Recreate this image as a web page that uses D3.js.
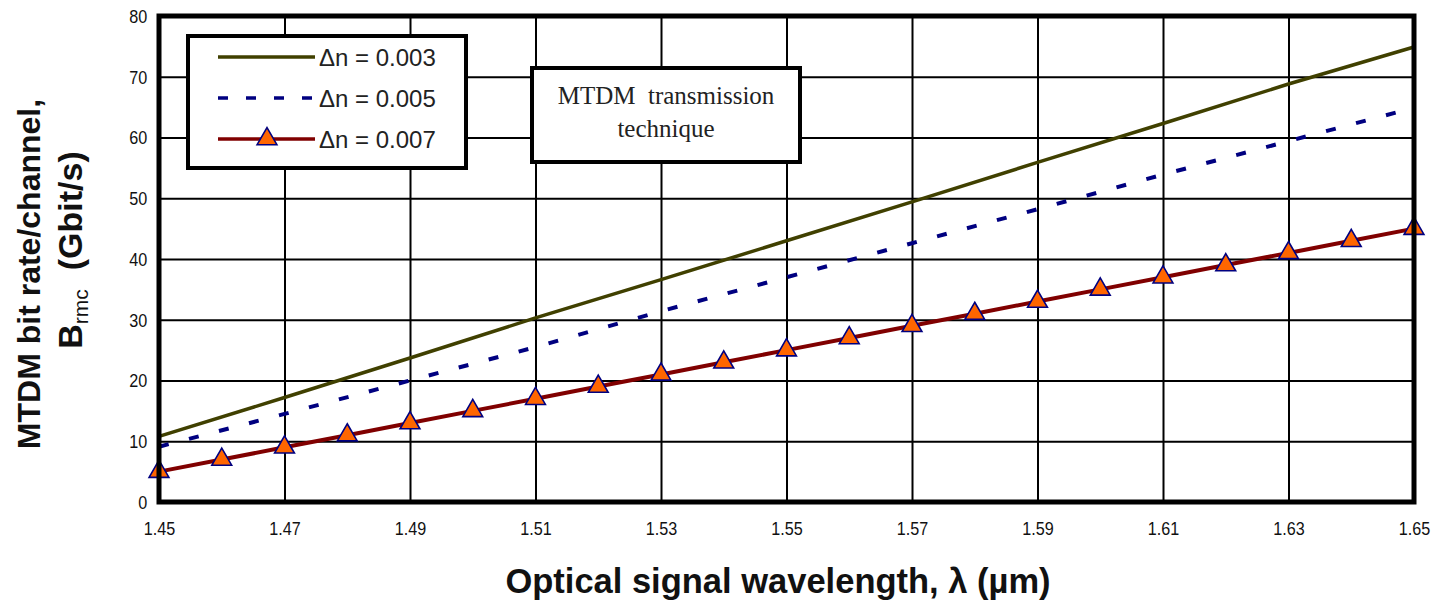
<!DOCTYPE html>
<html>
<head>
<meta charset="utf-8">
<script src="https://cdn.jsdelivr.net/npm/d3@7"></script>
<style>
    body { margin: 0; background: #fff; }
    #chartArea svg { display: block; }
</style>
</head>
<body>
<div id="chartArea"></div>
<script>
// wavelength grid (um) and read-off values (Gbit/s)
const lambdaMajor = [1.45, 1.47, 1.49, 1.51, 1.53, 1.55, 1.57, 1.59, 1.61, 1.63, 1.65];
const lambdaMinor = [1.45, 1.46, 1.47, 1.48, 1.49, 1.50, 1.51, 1.52, 1.53, 1.54, 1.55,
    1.56, 1.57, 1.58, 1.59, 1.60, 1.61, 1.62, 1.63, 1.64, 1.65];
const rateDn003 = [10.8, 17.2, 23.7, 30.3, 36.6, 43.0, 49.4, 55.9, 62.3, 68.8, 74.9];
const rateDn005 = [9.1, 14.5, 20.0, 25.5, 31.4, 37.0, 42.6, 48.2, 53.9, 59.4, 64.9];
const rateDn007 = [5, 7, 9, 11, 13, 15, 17, 19, 21, 23, 25, 27, 29, 31, 33, 35, 37, 39, 41, 43, 45];
const yTicks = [0, 10, 20, 30, 40, 50, 60, 70, 80];
const legendLabels = ["\u0394n = 0.003", "\u0394n = 0.005", "\u0394n = 0.007"];

const W = 1447, H = 607;
const margin = { top: 16, right: 33, bottom: 105, left: 159 },
    width = W - margin.left - margin.right,
    height = H - margin.top - margin.bottom;

const root = d3.select("#chartArea").append("svg")
    .attr("width", W)
    .attr("height", H)
    .style("background", "#fff");

const svg = root.append("g")
    .attr("transform", `translate(${margin.left},${margin.top})`);

const x = d3.scaleLinear().domain([1.45, 1.65]).range([0, width]);
const y = d3.scaleLinear().domain([0, 80]).range([height, 0]);

// grid
svg.append("g")
    .attr("class", "grid")
    .attr("transform", `translate(0, ${height})`)
    .call(d3.axisBottom(x).tickValues(lambdaMajor).tickSize(-height).tickFormat(""))
    .call(g => g.select(".domain").remove())
    .selectAll("line").attr("stroke", "#000").attr("stroke-width", 2);

svg.append("g")
    .attr("class", "grid")
    .call(d3.axisLeft(y).tickValues(yTicks).tickSize(-width).tickFormat(""))
    .call(g => g.select(".domain").remove())
    .selectAll("line").attr("stroke", "#000").attr("stroke-width", 2);

// tick labels (narrow look)
const xAxis = svg.append("g")
    .attr("transform", `translate(0, ${height})`)
    .call(d3.axisBottom(x).tickValues(lambdaMajor).tickSize(0).tickPadding(0).tickFormat(d3.format(".2f")));
xAxis.select(".domain").remove();
xAxis.selectAll("text")
    .attr("y", 33)
    .attr("dy", 0)
    .attr("transform", "scale(0.85,1)")
    .style("font-family", "Liberation Sans, Arial, sans-serif")
    .style("font-size", "19px")
    .style("fill", "#111");

const yAxis = svg.append("g")
    .call(d3.axisLeft(y).tickValues(yTicks).tickSize(0).tickPadding(0));
yAxis.select(".domain").remove();
yAxis.selectAll("text")
    .attr("x", -13)
    .attr("dy", "0.35em")
    .attr("transform", "scale(0.9,1)")
    .style("font-family", "Liberation Sans, Arial, sans-serif")
    .style("font-size", "18px")
    .style("fill", "#111");

// series
const line = d3.line().x(d => x(d[0])).y(d => y(d[1]));
const s003 = lambdaMajor.map((l, i) => [l, rateDn003[i]]);
const s005 = lambdaMajor.map((l, i) => [l, rateDn005[i]]);
const s007 = lambdaMinor.map((l, i) => [l, rateDn007[i]]);

svg.append("path").datum(s003)
    .attr("d", line).attr("fill", "none")
    .attr("stroke", "#404000").attr("stroke-width", 3.5);

svg.append("path").datum(s005)
    .attr("d", line).attr("fill", "none")
    .attr("stroke", "#000080").attr("stroke-width", 4)
    .attr("stroke-dasharray", "10,21");

svg.append("path").datum(s007)
    .attr("d", line).attr("fill", "none")
    .attr("stroke", "#800000").attr("stroke-width", 4);

const tri = d3.symbol().type(d3.symbolTriangle).size(170);
svg.selectAll(".marker")
    .data(s007)
    .enter().append("path")
    .attr("class", "marker")
    .attr("d", tri)
    .attr("transform", d => `translate(${x(d[0])},${y(d[1])})`)
    .attr("fill", "#ff6600")
    .attr("stroke", "#000080")
    .attr("stroke-width", 1.6);

// frame
svg.append("rect")
    .attr("width", width).attr("height", height)
    .attr("fill", "none").attr("stroke", "#000").attr("stroke-width", 5);

// legend
const legend = root.append("g").attr("class", "legend");
legend.append("rect")
    .attr("x", 188).attr("y", 36).attr("width", 278).attr("height", 132)
    .attr("fill", "#fff").attr("stroke", "#000").attr("stroke-width", 4);

const legendStyles = [
    { stroke: "#404000", dash: null },
    { stroke: "#000080", dash: "10,18" },
    { stroke: "#800000", dash: null }
];
legendLabels.forEach((lab, i) => {
    const ly = 57 + i * 41;
    legend.append("line")
        .attr("x1", 218).attr("x2", 315).attr("y1", ly).attr("y2", ly)
        .attr("stroke", legendStyles[i].stroke)
        .attr("stroke-width", 3.5)
        .attr("stroke-dasharray", legendStyles[i].dash);
    if (i === 2) {
        legend.append("path")
            .attr("d", tri)
            .attr("transform", `translate(267,${ly})`)
            .attr("fill", "#ff6600").attr("stroke", "#000080").attr("stroke-width", 1.6);
    }
    legend.append("text")
        .attr("x", 319).attr("y", ly).attr("dy", "0.36em")
        .text(lab)
        .style("font-family", "Liberation Sans, Arial, sans-serif")
        .style("font-size", "24px")
        .style("fill", "#222");
});

// annotation box
const note = root.append("g");
note.append("rect")
    .attr("x", 532).attr("y", 68).attr("width", 268).attr("height", 94)
    .attr("fill", "#fff").attr("stroke", "#000").attr("stroke-width", 4);
note.append("text")
    .attr("x", 666).attr("y", 104)
    .attr("text-anchor", "middle")
    .style("white-space", "pre")
    .style("font-family", "Liberation Serif, Times New Roman, serif")
    .style("font-size", "25px")
    .style("fill", "#222")
    .text("MTDM  transmission");
note.append("text")
    .attr("x", 666).attr("y", 137)
    .attr("text-anchor", "middle")
    .style("font-family", "Liberation Serif, Times New Roman, serif")
    .style("font-size", "25px")
    .style("fill", "#222")
    .text("technique");

// axis titles
root.append("text")
    .attr("x", 778).attr("y", 593)
    .attr("text-anchor", "middle")
    .style("font-family", "Liberation Sans, Arial, sans-serif")
    .style("font-weight", "bold")
    .style("font-size", "34.5px")
    .style("fill", "#111")
    .text("Optical signal wavelength, \u03bb (\u00b5m)");

root.append("text")
    .attr("transform", "translate(40,274) rotate(-90)")
    .attr("text-anchor", "middle")
    .style("font-family", "Liberation Sans, Arial, sans-serif")
    .style("font-weight", "bold")
    .style("font-size", "32px")
    .style("fill", "#111")
    .text("MTDM bit rate/channel,");

const t2 = root.append("text")
    .attr("transform", "translate(82,250) rotate(-90)")
    .attr("text-anchor", "middle")
    .style("font-family", "Liberation Sans, Arial, sans-serif")
    .style("font-weight", "bold")
    .style("font-size", "34px")
    .style("fill", "#111");
t2.append("tspan").text("B");
t2.append("tspan").attr("dy", 6).style("font-size", "21px").style("font-weight", "normal").text("rmc");
t2.append("tspan").attr("dy", -6).text("  (Gbit/s)").style("white-space", "pre");
</script>
</body>
</html>
